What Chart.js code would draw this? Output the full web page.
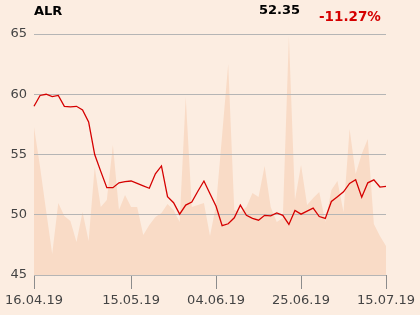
<!DOCTYPE html>
<html>
<head>
<meta charset="utf-8">
<script src="https://cdn.jsdelivr.net/npm/chart.js@4.4.1/dist/chart.umd.min.js"></script>
<style>
  html, body { margin: 0; padding: 0; background: #fcede1; }
  .wrap { position: relative; width: 420px; height: 315px; font-family: "DejaVu Sans", sans-serif; }
  .hdr { position: absolute; font-weight: bold; font-size: 13px; line-height: 1; }
  #sym { left: 34px; top: 4px; color: #000; }
  #last { left: 259px; top: 3px; color: #000; }
  #chg { left: 319px; top: 10px; color: #d50000; font-size: 13.5px; }
  canvas { position: absolute; left: 0; top: 0; }
</style>
</head>
<body>
<div class="wrap">
  <canvas id="chart" width="420" height="315"></canvas>
  <div class="hdr" id="sym">ALR</div>
  <div class="hdr" id="last">52.35</div>
  <div class="hdr" id="chg">-11.27%</div>
</div>
<script>
// one value per trading session, 16.04.19 .. 15.07.19
const prices = [
    59.0, 59.9, 60.0, 59.8, 59.9, 59.0, 58.95, 59.0, 58.7, 57.7,
    55.0, 53.6, 52.25, 52.25, 52.65, 52.75, 52.8, 52.6, 52.4, 52.2,
    53.4, 54.05, 51.5, 51.0, 50.05, 50.8, 51.05, 51.95, 52.8, 51.75,
    50.7, 49.1, 49.25, 49.75, 50.8, 49.95, 49.7, 49.55, 49.95, 49.9,
    50.15, 49.95, 49.2, 50.35, 50.05, 50.3, 50.55, 49.85, 49.7, 51.1,
    51.5, 51.9, 52.6, 52.9, 51.45, 52.65, 52.9, 52.3, 52.35
];
const volumes = [
    148, 108, 64, 21, 72, 59, 54, 33, 63, 34,
    108, 68, 75, 130, 65, 80, 68, 68, 40, 50,
    58, 62, 71, 65, 53, 178, 68, 70, 72, 39,
    70, 140, 211, 65, 63, 68, 82, 78, 109, 68,
    53, 57, 239, 75, 110, 70, 77, 83, 53, 85,
    94, 63, 146, 101, 121, 136, 51, 39, 29
];
const tickIndex = [0, 16, 30, 44, 58];
const tickLabels = ['16.04.19', '15.05.19', '04.06.19', '25.06.19', '15.07.19'];
const yTicks = [45, 50, 55, 60, 65];

const pricePts = prices.map((v, i) => ({ x: i, y: v }));
const volPts = volumes.map((v, i) => ({ x: i, y: v }));

Chart.defaults.font.family = '"DejaVu Sans", sans-serif';
Chart.defaults.font.size = 13;
Chart.defaults.color = '#444';

// grid sits above the volume area; the price line is held back and drawn last
const priceOnTop = {
    id: 'priceOnTop',
    beforeDatasetDraw(chart, args) {
        if (args.index === 0 && !chart.$priceNow) return false;
    },
    afterDraw(chart) {
        const a = chart.chartArea;
        const ctx = chart.ctx;
        ctx.save();
        ctx.beginPath();
        ctx.rect(a.left - 2, a.top - 2, a.right - a.left + 4, a.bottom - a.top + 4);
        ctx.clip();
        chart.$priceNow = true;
        chart.getDatasetMeta(0).controller.draw();
        chart.$priceNow = false;
        ctx.restore();
    }
};

new Chart(document.getElementById('chart'), {
    type: 'line',
    data: {
        datasets: [
            {
                label: 'Price', data: pricePts, yAxisID: 'y',
                borderColor: '#d50000', borderWidth: 1.3, pointRadius: 0, tension: 0, fill: false
            },
            {
                label: 'Volume', data: volPts, yAxisID: 'y2',
                borderWidth: 0, borderColor: 'rgba(0,0,0,0)', backgroundColor: '#f9dbc6',
                pointRadius: 0, tension: 0, fill: 'origin'
            }
        ]
    },
    options: {
        responsive: false,
        animation: false,
        layout: { padding: { top: 34, right: 34, left: 0, bottom: 0 } },
        plugins: { legend: { display: false }, tooltip: { enabled: false } },
        scales: {
            x: {
                type: 'linear', min: 0, max: prices.length - 1,
                afterBuildTicks: (s) => { s.ticks = tickIndex.map(v => ({ value: v })); },
                afterFit: (s) => { s.height = 40; },
                ticks: {
                    autoSkip: false, maxRotation: 0, padding: 4,
                    callback: (v) => tickLabels[tickIndex.indexOf(v)] ?? ''
                },
                grid: { drawOnChartArea: false, drawTicks: true, tickLength: 14, color: '#8c8c8c' },
                border: { display: true, color: '#8c8c8c' }
            },
            y: {
                min: 45, max: 65,
                afterBuildTicks: (s) => { s.ticks = yTicks.map(v => ({ value: v })); },
                afterFit: (s) => { s.width = 34; },
                ticks: { padding: 7 },
                grid: { drawTicks: false, color: '#b5b5b5', z: 1 },
                border: { display: false }
            },
            y2: { display: false, min: 0, max: 241 }
        }
    },
    plugins: [priceOnTop]
});
</script>
</body>
</html>
